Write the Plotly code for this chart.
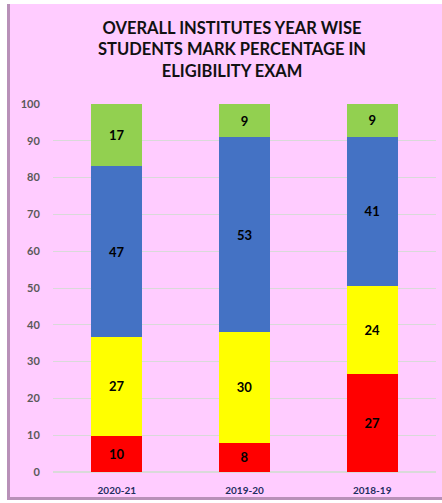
import plotly.graph_objects as go

years = ["2020-21", "2019-20", "2018-19"]
band_red = [10, 8, 27]
band_yellow = [27, 30, 24]
band_blue = [47, 53, 41]
band_green = [17, 9, 9]
y_ticks = [0, 10, 20, 30, 40, 50, 60, 70, 80, 90, 100]
title_text = "OVERALL INSTITUTES YEAR WISE<br>STUDENTS MARK PERCENTAGE IN<br>ELIGIBILITY EXAM"

series = [
    ("Red", band_red, "#FF0000"),
    ("Yellow", band_yellow, "#FFFF00"),
    ("Blue", band_blue, "#4472C4"),
    ("Green", band_green, "#92D050"),
]

fig = go.Figure()
for name, vals, col in series:
    fig.add_trace(go.Bar(
        x=years, y=vals, name=name, marker=dict(color=col, line=dict(width=0)),
        text=[str(v) for v in vals], textposition="inside", insidetextanchor="middle",
        textangle=0,
        textfont=dict(family="Lato, Arial", size=13, color="#000000", weight="bold"),
        width=0.4,
    ))

W, H = 442, 503
ml, mr, mt, mb = 53, 6, 104, 31
pw, ph = W - ml - mr, H - mt - mb

def px_x(p):
    return (p - ml) / pw

def px_y(p):
    return (H - mb - p) / ph

fig.update_layout(
    barmode="stack", barnorm="percent",
    width=W, height=H,
    margin=dict(l=ml, r=mr, t=mt, b=mb, autoexpand=False),
    paper_bgcolor="#FFFFFF", plot_bgcolor="rgba(0,0,0,0)",
    showlegend=False,
    xaxis=dict(
        tickfont=dict(family="Lato, Arial", size=10, color="#1F2F5F", weight="bold"),
        showgrid=False, showline=False, ticks="outside", ticklen=9,
        tickcolor="rgba(0,0,0,0)",
    ),
    yaxis=dict(
        range=[0, 100], tickvals=y_ticks, showgrid=True, gridcolor="#D9D9D9",
        gridwidth=1, zeroline=True, zerolinecolor="#D9D9D9", showline=False,
        tickfont=dict(family="Lato, Arial", size=11, color="#595959", weight="bold"),
        ticklen=10, ticks="outside", tickcolor="rgba(0,0,0,0)",
    ),
    annotations=[
        dict(text=title_text, xref="paper", yref="paper", x=px_x(232), y=px_y(49),
             xanchor="center", yanchor="middle", showarrow=False, align="center",
             font=dict(family="Lato, Arial", size=16.5, color="#111111", weight="bold")),
    ],
    shapes=[
        dict(type="rect", xref="paper", yref="paper", layer="below",
             x0=px_x(7), x1=px_x(446), y0=px_y(500), y1=px_y(4),
             fillcolor="#B890B8", line=dict(width=0)),
        dict(type="rect", xref="paper", yref="paper", layer="below",
             x0=px_x(10), x1=px_x(446), y0=px_y(497), y1=px_y(4),
             fillcolor="#FFCCFF", line=dict(width=0)),
    ],
)

fig.write_html("out.html", config={"displayModeBar": False},
               post_script="document.body.style.margin='0';document.body.style.overflow='hidden';")
